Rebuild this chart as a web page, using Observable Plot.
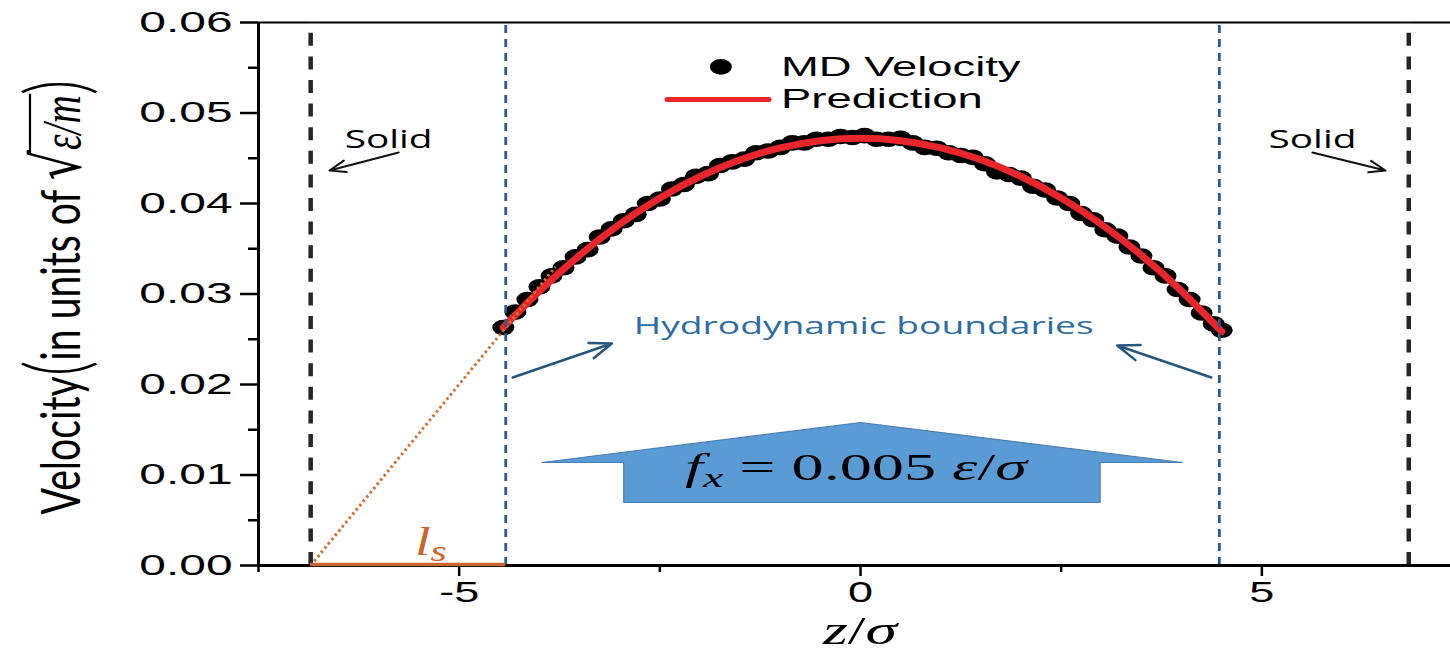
<!DOCTYPE html>
<html><head><meta charset="utf-8">
<script src="https://cdn.jsdelivr.net/npm/d3@7"></script>
<script src="https://cdn.jsdelivr.net/npm/@observablehq/plot@0.6"></script>
<style>
html,body{margin:0;padding:0;background:#fff;}
#wrap{position:relative;width:1450px;height:654px;overflow:hidden;background:#fff;}
</style></head><body><div id="wrap"></div>
<script>
// ---- data ----
const zMD = [-4.45,-4.30,-4.15,-4.00,-3.85,-3.70,-3.55,-3.40,-3.25,-3.10,-2.95,-2.80,-2.65,-2.50,-2.35,-2.20,-2.05,-1.90,-1.75,-1.60,-1.45,-1.30,-1.15,-1.00,-0.85,-0.70,-0.55,-0.40,-0.25,-0.10,0.05,0.20,0.35,0.50,0.65,0.80,0.95,1.10,1.25,1.40,1.55,1.70,1.85,2.00,2.15,2.30,2.45,2.60,2.75,2.90,3.05,3.20,3.35,3.50,3.65,3.80,3.95,4.10,4.25,4.40,4.50];
const vMD = [0.0263,0.0280,0.0294,0.0308,0.0320,0.0329,0.0341,0.0349,0.0363,0.0372,0.0381,0.0388,0.0400,0.0405,0.0416,0.0421,0.0430,0.0433,0.0442,0.0446,0.0449,0.0456,0.0458,0.0462,0.0467,0.0467,0.0471,0.0471,0.0474,0.0473,0.0475,0.0471,0.0471,0.0472,0.0467,0.0462,0.0461,0.0456,0.0453,0.0451,0.0444,0.0435,0.0432,0.0428,0.0419,0.0415,0.0406,0.0400,0.0389,0.0382,0.0371,0.0364,0.0352,0.0342,0.0329,0.0320,0.0305,0.0294,0.0279,0.0267,0.0260];
const zPred = [-4.45,-4,-3.5,-3,-2.5,-2,-1.5,-1,-0.5,0,0.5,1,1.5,2,2.5,3,3.5,4,4.5];
const vPred = [0.02631,0.03032,0.03428,0.03771,0.04061,0.04298,0.04483,0.04615,0.04694,0.0472,0.04694,0.04615,0.04483,0.04298,0.04061,0.03771,0.03428,0.03032,0.02584];
const yTicks = [0,0.01,0.02,0.03,0.04,0.05,0.06];
const yMinor = [0.005,0.015,0.025,0.035,0.045,0.055];
const xTicks = [-5,0,5];
const xMinor = [-7.5,-2.5,2.5];
const solidWalls = [-6.85,6.83];
const hydroBounds = [-4.42,4.47];
const slipZ = [-6.85,-4.42];
const tangentZ = [-6.85,-3.80];
const tangentV = [0,0.0330];
const legendLabels = ["MD Velocity","Prediction"];
const solidLabelZ = [-5.88,5.63];
const forceZ = [-3.97,-2.95,-2.95,2.985,2.985,4.01,0.0,-3.97];
const forceV = [0.01138,0.01138,0.00696,0.00696,0.01138,0.01138,0.0158,0.01138];

// ---- tables ----
const md = zMD.map((z,i)=>({z, v:vMD[i]}));
const pred = zPred.map((z,i)=>({z, v:vPred[i]}));
const tangent = tangentZ.map((z,i)=>({z, v:tangentV[i]}));
const force = forceZ.map((z,i)=>({z, v:forceV[i]}));
const solidText = solidLabelZ.map(z=>({z, v:0.04707, t:"Solid"}));
const blackArrows = [{x1:-5.754,y1:0.04564,x2:-6.615,y2:0.04365},{x1:5.629,y1:0.04564,x2:6.54,y2:0.04365}];
const blueArrows = [{x1:-4.333,y1:0.02077,x2:-3.098,y2:0.02453},{x1:4.37,y1:0.02077,x2:3.198,y2:0.02431}];
const legendDot = [{z:-1.74, v:0.0551}];
const legendLine = [{z:-2.41, v:0.0515},{z:-1.14, v:0.0515}];
const legendText = [{z:-0.99, v:0.0551, t:legendLabels[0]},{z:-0.99, v:0.0515, t:legendLabels[1]}];
const hydroText = [{z:0.04, v:0.02641, t:"Hydrodynamic boundaries"}];

const chart = Plot.plot({
  width:1450, height:654, marginLeft:258, marginRight:0, marginTop:22, marginBottom:89,
  x:{domain:[-7.5,7.35]}, y:{domain:[0,0.06]},
  style:{fontFamily:"'Liberation Sans', Arial, sans-serif", color:"#000", background:"#fff"},
  marks:[
    Plot.axisY(yTicks, {tickSize:18, tickPadding:8, tickFormat:d3.format(".2f"), fontSize:29, strokeWidth:2.5, label:null}),
    Plot.axisY(yMinor, {tickSize:10, tickFormat:()=>"", strokeWidth:2.5, label:null}),
    Plot.axisX(xTicks, {tickSize:11, tickPadding:4, tickFormat:d=>String(d), fontSize:30, strokeWidth:2.5, label:null}),
    Plot.axisX(xMinor, {tickSize:7, tickFormat:()=>"", strokeWidth:2.5, label:null}),
    Plot.ruleY([0.06], {stroke:"#000", strokeWidth:2}),
    Plot.ruleX(solidWalls, {y1:0, y2:0.06, stroke:"#262626", strokeWidth:4.5, strokeDasharray:"13,10.6"}),
    Plot.line(force, {x:"z", y:"v", fill:"#5b9bd5", stroke:"#4a7db0", strokeWidth:1.2, curve:"linear"}),
    Plot.dot(md, {x:"z", y:"v", r:7.5, fill:"#000", stroke:null}),
    Plot.line(pred, {x:"z", y:"v", stroke:"#e8262b", strokeWidth:7, curve:"natural"}),
    Plot.line(tangent, {x:"z", y:"v", stroke:"#d2702f", strokeWidth:3, strokeDasharray:"2.5,3", strokeLinecap:"butt"}),
    Plot.ruleX(hydroBounds, {y1:0, y2:0.06, stroke:"#2b5c8a", strokeWidth:2.8, strokeDasharray:"8,6"}),
    Plot.ruleX([-7.5], {stroke:"#000", strokeWidth:3}),
    Plot.ruleY([0], {stroke:"#000", strokeWidth:3}),
    Plot.ruleY([0], {x1:slipZ[0], x2:slipZ[1], stroke:"#cb652e", strokeWidth:3.5, dy:-1}),
    Plot.arrow(blackArrows, {x1:"x1", y1:"y1", x2:"x2", y2:"y2", stroke:"#111", strokeWidth:2, headLength:13, headAngle:40}),
    Plot.arrow(blueArrows, {x1:"x1", y1:"y1", x2:"x2", y2:"y2", stroke:"#24577f", strokeWidth:2.5, headLength:14, headAngle:40}),
    Plot.text(solidText, {x:"z", y:"v", text:"t", fontSize:25, fontFamily:"'Open Sans', sans-serif", fill:"#000"}),
    Plot.text(hydroText, {x:"z", y:"v", text:"t", fontSize:24, fontFamily:"'Open Sans', sans-serif", fill:"#2e6da4"}),
    Plot.dot(legendDot, {x:"z", y:"v", r:7.5, fill:"#000", stroke:null}),
    Plot.line(legendLine, {x:"z", y:"v", stroke:"#e8262b", strokeWidth:5, strokeLinecap:"round"}),
    Plot.text(legendText, {x:"z", y:"v", text:"t", fontSize:28, textAnchor:"start", fill:"#000"})
  ]
});
const wrap = document.getElementById("wrap");
wrap.appendChild(chart);
const svg = chart.tagName.toLowerCase()==="svg" ? chart : chart.querySelector("svg");
const xs = chart.scale("x"), ys = chart.scale("y");

function stretchNode(t, f){
  const L = t.getComputedTextLength();
  if (L>0){ t.setAttribute("textLength", L*f); t.setAttribute("lengthAdjust","spacingAndGlyphs"); }
}
svg.querySelectorAll('g[aria-label="y-axis tick label"] text').forEach(t=>stretchNode(t,1.65));
svg.querySelectorAll('g[aria-label="x-axis tick label"] text').forEach(t=>stretchNode(t,1.5));
svg.querySelectorAll('g[aria-label="text"] text').forEach(t=>{
  const s = t.textContent;
  if (legendLabels.includes(s)) stretchNode(t, 1.62);
  else stretchNode(t, 1.55);
});

// circles -> ellipses (horizontally stretched markers)
svg.querySelectorAll('circle').forEach(c=>{
  const e = document.createElementNS("http://www.w3.org/2000/svg","ellipse");
  e.setAttribute("cx", c.getAttribute("cx")||0);
  e.setAttribute("cy", c.getAttribute("cy")||0);
  if (c.getAttribute("transform")) e.setAttribute("transform", c.getAttribute("transform"));
  e.setAttribute("rx", 11); e.setAttribute("ry", 7.8);
  e.setAttribute("fill", "#000");
  c.parentNode.replaceChild(e, c);
});

function rich(x, y, parts, o){
  const g = d3.select(svg).append("g").attr("transform", `translate(${x},${y})` + (o.rotate ? ` rotate(${o.rotate})` : ""));
  const inner = g.append("g");
  const t = inner.append("text").attr("text-anchor", o.anchor||"middle").attr("fill", o.fill||"#000")
    .attr("font-family", o.family).attr("font-size", o.size);
  const spans = parts.map(p=>{
    const s = t.append("tspan").text(p.t);
    if (p.italic) s.attr("font-style","italic");
    if (p.size) s.attr("font-size", p.size);
    if (p.dy) s.attr("dy", p.dy);
    if (p.family) s.attr("font-family", p.family);
    if (p.weight) s.attr("font-weight", p.weight);
    return s;
  });
  const w = t.node().getComputedTextLength();
  const sx = o.width ? o.width / w : (o.sx || 1);
  inner.attr("transform", `scale(${sx},1)`);
  return {g, inner, t, spans, sx};
}

// y-axis title
const yl = rich(80, 297, [
  {t:"Velocity"},
  {t:"(", size:84, weight:300, dy:6},
  {t:"in units of ", dy:-6},
  {t:"√", size:66, family:"'DejaVu Sans', sans-serif"},
  {t:"ε/m", italic:true, family:"'Liberation Serif', serif"},
  {t:")", size:84, weight:300, dy:6}
], {rotate:-90, family:"Lato, 'Open Sans', sans-serif", size:54, width:435});
{
  const bb = yl.spans[4].node().getBBox();
  const sb = yl.spans[3].node().getBBox();
  yl.inner.append("line").attr("x1", sb.x + sb.width*0.85).attr("x2", bb.x + bb.width + 2)
    .attr("y1", -50).attr("y2", -50).attr("stroke", "#000").attr("stroke-width", 2.2);
}

// x-axis title
rich(xs.apply(0), 644, [{t:"z", italic:true},{t:"/"},{t:"σ", italic:true}],
  {family:"'Liberation Serif', serif", size:40, sx:1.6});

// force label
rich(xs.apply(-0.05), ys.apply(0.0094), [
  {t:"f", italic:true},
  {t:"x", italic:true, size:27, dy:7},
  {t:" = 0.005 ", dy:-7},
  {t:"ε", italic:true},
  {t:"/"},
  {t:"σ", italic:true}
], {family:"'Liberation Serif', serif", size:38, width:342});

// slip length label
rich(xs.apply(-5.345), ys.apply(0.0011), [
  {t:"l", italic:true},
  {t:"s", italic:true, size:30, dy:6}
], {family:"'Liberation Serif', serif", size:40, sx:1.4, fill:"#cb652e"});
</script>
</body></html>
